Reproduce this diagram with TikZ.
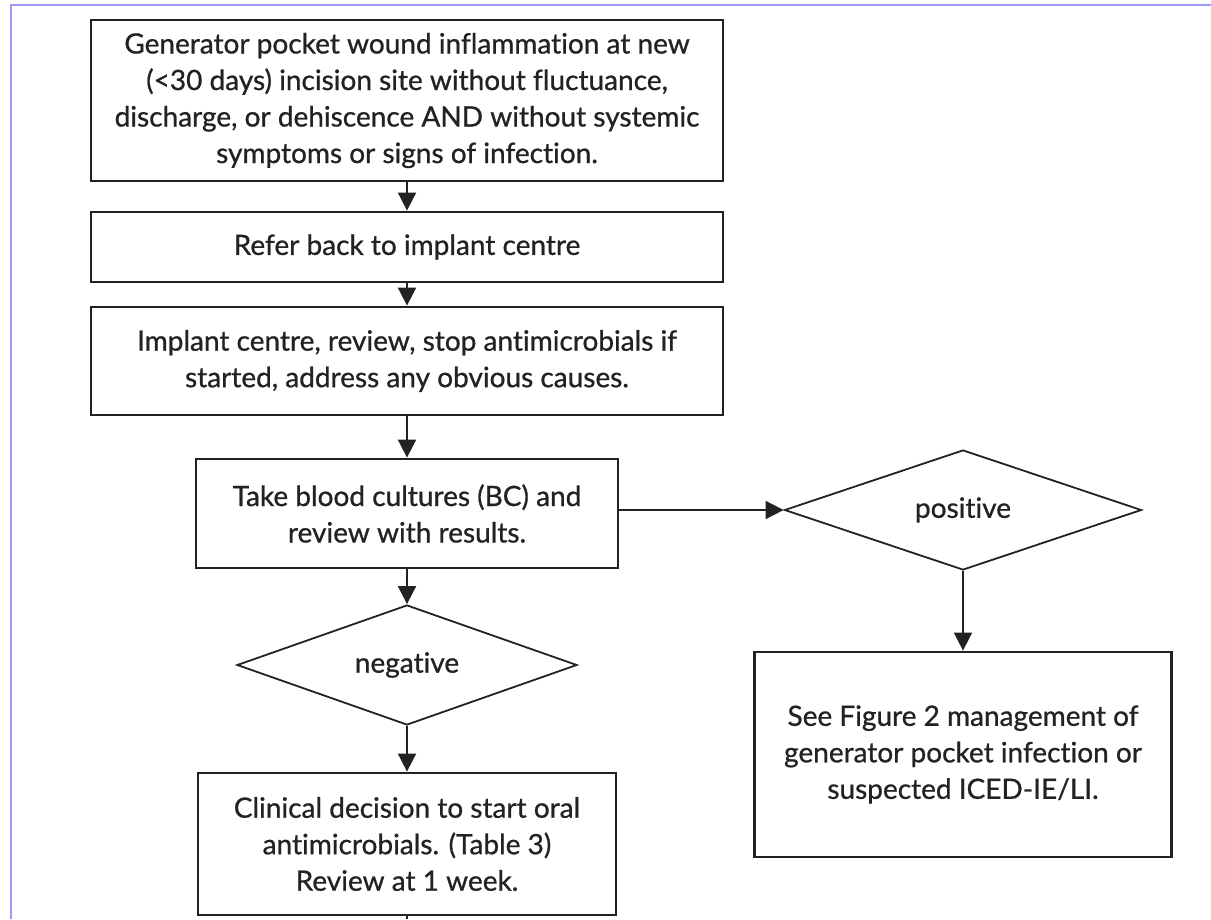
\documentclass[tikz,border=0pt]{standalone}
\usepackage{fontspec}
\setmainfont{Lato}[Ligatures={NoCommon,NoRare,NoContextual}, RawFeature={-liga;-dlig;-clig;-calt}, FakeBold=0.8]
\usetikzlibrary{shapes.geometric,arrows.meta}
\definecolor{ink}{HTML}{222222}
\definecolor{framecol}{HTML}{9C9CF8}
\begin{document}
\begin{tikzpicture}[x=1pt,y=-1pt,
  box/.style={draw=ink, line width=2.8pt, rectangle, inner sep=0pt, align=center, text=ink, font=\fontsize{28}{36.5}\selectfont},
  dec/.style={draw=ink, line width=1.8pt, diamond, aspect=3, inner sep=0pt, text=ink, font=\fontsize{28}{36.5}\selectfont},
  conn/.style={draw=ink, line width=1.8pt, -{Triangle[width=18pt,length=18pt]}},
]
\useasboundingbox (0,0) rectangle (1211,919);
\draw[framecol, line width=2pt] (1211,5) -- (11,5) -- (11,919);

\node[box, minimum width=632pt, minimum height=161pt] (b1) at (407,100.5)
  {Generator pocket wound inflammation at new\\(<30 days) incision site without fluctuance,\\discharge, or dehiscence AND without systemic\\symptoms or signs of infection.};
\node[box, minimum width=632pt, minimum height=70pt] (b2) at (407,247)
  {Refer back to implant centre};
\node[box, minimum width=632pt, minimum height=108pt] (b3) at (407,361)
  {Implant centre, review, stop antimicrobials if\\started, address any obvious causes.};
\node[box, minimum width=422pt, minimum height=109pt] (b4) at (407,513.5)
  {Take blood cultures (BC) and\\review with results.};
\node[dec, minimum width=340pt, minimum height=120pt] (neg) at (407,665) {negative};
\node[box, minimum width=418pt, minimum height=142pt] (b5) at (407,844)
  {Clinical decision to start oral\\antimicrobials. (Table 3)\\Review at 1 week.};
\node[dec, minimum width=357pt, minimum height=120pt] (pos) at (963,510) {positive};
\node[box, minimum width=417pt, minimum height=205pt] (b6) at (963,754.5)
  {See Figure 2 management of\\generator pocket infection or\\suspected ICED-IE/LI.};
\coordinate (bend) at (407,919);

\draw[conn] (b1) -- (b2);
\draw[conn] (b2) -- (b3);
\draw[conn] (b3) -- (b4);
\draw[conn] (b4) -- (neg);
\draw[conn] (neg) -- (b5);
\draw[conn] (pos.west -| b4.east) -- (pos.west);
\draw[conn] (pos) -- (b6);
\draw[draw=ink, line width=1.8pt] (b5.south) -- (bend);
\end{tikzpicture}
\end{document}
